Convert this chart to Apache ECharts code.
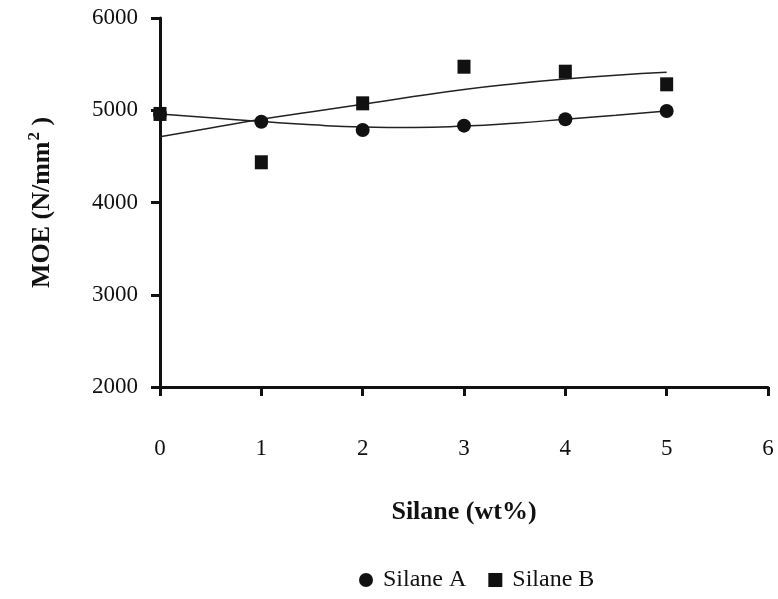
<!DOCTYPE html>
<html>
<head>
<meta charset="utf-8">
<script src="https://cdn.jsdelivr.net/npm/echarts@6/dist/echarts.min.js"></script>
<style>
  html, body { margin: 0; padding: 0; background: #fff; }
  #chart { width: 778px; height: 599px; }
</style>
</head>
<body>
<div id="chart"></div>
<script>
// Silane loading (wt%)
const silaneLoading = [0, 1, 2, 3, 4, 5];

// Measured modulus of elasticity (N/mm²)
const silaneA = [4960, 4876, 4786, 4833, 4902, 4992];
const silaneB = [4960, 4436, 5075, 5472, 5418, 5281];

// Fitted trend curves, sampled every 0.5 wt%
const trendLoading = [0, 0.5, 1, 1.5, 2, 2.5, 3, 3.5, 4, 4.5, 5];
const trendA = [4959, 4918, 4878, 4842, 4818, 4812, 4828, 4860, 4902, 4945, 4992];
const trendB = [4713, 4808, 4902, 4984, 5064, 5148, 5226, 5288, 5339, 5380, 5411];

const yTicks = { min: 2000, max: 6000, step: 1000 };
const xTicks = { min: 0, max: 6, step: 1 };

const pairs = (xs, ys) => xs.map((x, i) => [x, ys[i]]);

const font = 'Liberation Serif';
const ink = '#111';

const chart = echarts.init(document.getElementById('chart'), null, { renderer: 'canvas' });
chart.setOption({
  backgroundColor: '#fff',
  animation: false,
  grid: { left: 160, right: 10, top: 18, bottom: 212, containLabel: false },
  xAxis: {
    type: 'value',
    min: xTicks.min, max: xTicks.max, interval: xTicks.step,
    name: 'Silane (wt%)',
    nameLocation: 'middle',
    nameGap: 112,
    nameTextStyle: { fontFamily: font, fontWeight: 'bold', fontSize: 26, color: ink },
    axisLine: { lineStyle: { color: ink, width: 3 } },
    axisTick: { show: true, length: 9, lineStyle: { color: ink, width: 3 } },
    axisLabel: { margin: 50, fontFamily: font, fontSize: 23, color: ink },
    splitLine: { show: false }
  },
  yAxis: {
    type: 'value',
    min: yTicks.min, max: yTicks.max, interval: yTicks.step,
    name: 'MOE (N/mm{sup|2} )',
    nameLocation: 'middle',
    nameGap: 101,
    nameRotate: 90,
    nameTextStyle: {
      fontFamily: font, fontWeight: 'bold', fontSize: 26, color: ink,
      rich: {
        sup: {
          fontFamily: font, fontWeight: 'bold', fontSize: 17, color: ink,
          verticalAlign: 'bottom', padding: [0, 0, 16, 1]
        }
      }
    },
    axisLine: { show: true, lineStyle: { color: ink, width: 3 } },
    axisTick: { show: true, length: 9, lineStyle: { color: ink, width: 3 } },
    axisLabel: {
      margin: 22, fontFamily: font, fontSize: 23, color: ink,
      formatter: v => String(v)
    },
    splitLine: { show: false }
  },
  legend: {
    data: ['Silane A', 'Silane B'],
    top: 563,
    left: 354,
    itemGap: 22,
    itemWidth: 14,
    itemHeight: 14,
    textStyle: { fontFamily: font, fontSize: 24, color: ink, padding: [0, 0, 0, 5] }
  },
  series: [
    {
      name: 'trend A', type: 'line', data: pairs(trendLoading, trendA),
      smooth: 0.5, showSymbol: false, silent: true,
      lineStyle: { color: '#222', width: 1.5 }, z: 2
    },
    {
      name: 'trend B', type: 'line', data: pairs(trendLoading, trendB),
      smooth: 0.5, showSymbol: false, silent: true,
      lineStyle: { color: '#222', width: 1.5 }, z: 2
    },
    {
      name: 'Silane A', type: 'scatter', data: pairs(silaneLoading, silaneA),
      symbol: 'circle', symbolSize: 14,
      itemStyle: { color: ink, opacity: 1 }, z: 3
    },
    {
      name: 'Silane B', type: 'scatter', data: pairs(silaneLoading, silaneB),
      symbol: 'rect', symbolSize: [13, 14],
      itemStyle: { color: ink, opacity: 1 }, z: 4
    }
  ]
});
</script>
</body>
</html>
